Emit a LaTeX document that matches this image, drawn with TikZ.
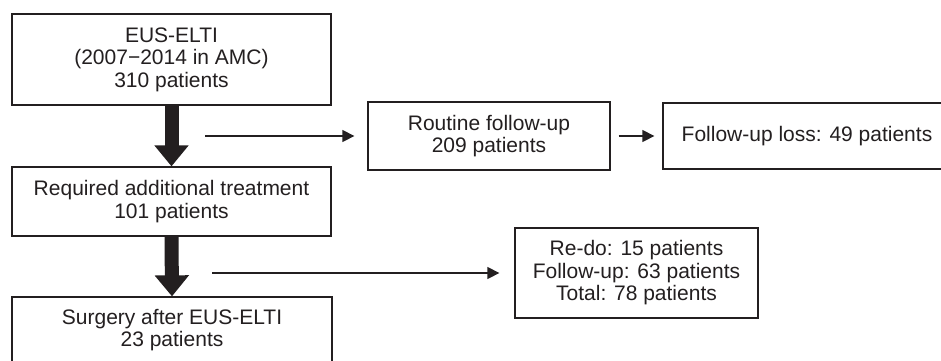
\documentclass[tikz,border=0pt]{standalone}
\usepackage{fontspec}
\setmainfont{Liberation Sans}
\usetikzlibrary{arrows.meta}
\definecolor{ink}{HTML}{231F20}

\begin{document}
\begin{tikzpicture}[x=1pt,y=-1pt,
  box/.style={draw=ink, line width=1.3pt, align=center, inner sep=0pt,
    font=\fontsize{21}{22.5}\selectfont, text=ink},
  bigarrow/.style={draw=ink, line width=14pt, -{Triangle[width=33pt,length=21pt]}},
  smallarrow/.style={draw=ink, line width=1.3pt, -{Triangle[width=12pt,length=12pt]}}]
\useasboundingbox[fill=white] (0,0) rectangle (941,360);

% main column
\node[box, minimum width=319pt, minimum height=91pt] (eus) at (171.5,59.5)
  {EUS-ELTI\\(2007−2014 in AMC)\\310 patients};
\node[box, minimum width=319pt, minimum height=69pt] (req) at (171.5,201.5)
  {Required additional treatment\\101 patients};
\node[box, minimum width=320pt, minimum height=66pt] (surg) at (172,330)
  {Surgery after EUS-ELTI\\23 patients};

% side branches
\node[box, minimum width=242pt, minimum height=68pt] (rout) at (489,136)
  {Routine follow-up\\209 patients};
\node[box, minimum width=288pt, minimum height=66pt] (loss) at (807,136)
  {Follow-up loss: 49 patients};
\node[box, minimum width=243pt, minimum height=90pt] (redo) at (636.5,273)
  {Re-do: 15 patients\\Follow-up: 63 patients\\Total: 78 patients};

% thick downward arrows
\draw[bigarrow] (eus.south) -- (req.north);
\draw[bigarrow] (req.south) -- (surg.north);

% thin branch arrows
\coordinate (b1) at (205,136);
\coordinate (b2) at (212,273);
\draw[smallarrow, shorten >=13pt] (b1) -- (rout.west);
\draw[smallarrow, shorten <=8pt, shorten >=8pt] (rout.east) -- (loss.west);
\draw[smallarrow, shorten >=15pt] (b2) -- (redo.west);
\end{tikzpicture}
\end{document}
